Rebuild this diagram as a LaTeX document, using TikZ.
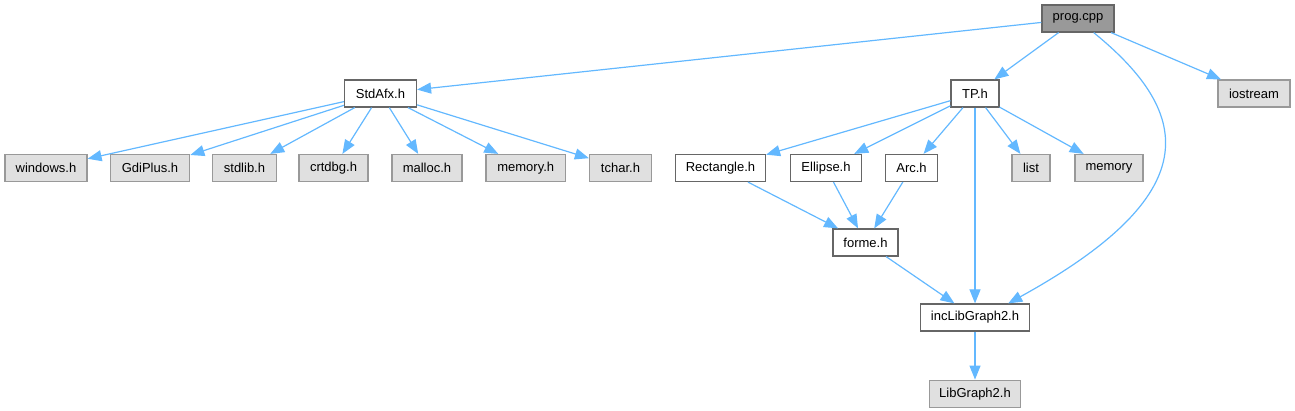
\documentclass[tikz,border=0pt]{standalone}
\usepackage{fontspec}
\setmainfont{Liberation Sans}
\usepackage{xcolor}
\definecolor{edgeblue}{HTML}{63B8FF}
\definecolor{docgray}{HTML}{666666}
\definecolor{extgray}{HTML}{999999}
\definecolor{extfill}{HTML}{E0E0E0}
\definecolor{rootfill}{HTML}{999999}
\usepackage{tikz}
\usetikzlibrary{
    arrows.meta,
    positioning
}
\tikzset{
    filenode/.style = {rectangle, draw=docgray, fill=white, line width=1.2pt,
                       minimum height=27pt, inner xsep=4pt, align=center,
                       font=\fontsize{13}{15}\selectfont},
    extnode/.style  = {filenode, draw=extgray, fill=extfill},
    rootnode/.style = {filenode, fill=rootfill},
    incArr/.style   = {-{Triangle[length=14pt, width=11pt]}, line width=1.2pt,
                       draw=edgeblue}
}

\begin{document}
\begin{tikzpicture}[x=1pt, y=1pt]
\useasboundingbox (0,0) rectangle (1295,-411);

% ===== Root file =====
\node[rootnode, minimum width=72pt] (prog) at (1078,-18.5) {prog.cpp};

% ===== Second row =====
\node[filenode, minimum width=72pt] (stdafx)   at (380.5,-93.5) {StdAfx.h};
\node[filenode, minimum width=48pt] (tp)       at (975,-93.5)   {TP.h};
\node[extnode,  minimum width=72pt] (iostream) at (1254,-93.5)  {iostream};

% ===== Headers pulled in by StdAfx.h =====
\node[extnode, minimum width=82pt]   (windows) at (46,-168)     {windows.h};
\node[extnode, minimum width=79.5pt] (gdiplus) at (150,-168)    {GdiPlus.h};
\node[extnode, minimum width=63.5pt] (stdlib)  at (244.5,-168)  {stdlib.h};
\node[extnode, minimum width=69pt]   (crtdbg)  at (333.5,-168)  {crtdbg.h};
\node[extnode, minimum width=70pt]   (malloc)  at (427,-168)    {malloc.h};
\node[extnode, minimum width=79.5pt] (memoryh) at (525.75,-168) {memory.h};
\node[extnode, minimum width=62pt]   (tchar)   at (620.5,-168)  {tchar.h};

% ===== Headers pulled in by TP.h =====
\node[filenode, minimum width=90pt]   (rect)    at (720.5,-168) {Rectangle.h};
\node[filenode, minimum width=71.5pt] (ellipse) at (826,-168)   {Ellipse.h};
\node[filenode, minimum width=52.5pt] (arc)     at (911.5,-168) {Arc.h};
\node[extnode,  minimum width=38pt]   (list)    at (1031,-168)  {list};
\node[extnode,  minimum width=68pt]   (memory)  at (1109,-168)  {memory};

% ===== Lower part =====
\node[filenode, minimum width=65pt]    (forme)  at (865.5,-242.5) {forme.h};
\node[filenode, minimum width=108.6pt] (inclib) at (975,-317.5)   {incLibGraph2.h};
\node[extnode,  minimum width=91.7pt, below=48pt of inclib] (libgraph) {LibGraph2.h};

% ===== Include edges =====
\draw[incArr] (prog) -- (stdafx);
\draw[incArr] (prog) -- (tp);
\draw[incArr] (prog) -- (iostream);
\draw[incArr] (prog.-42) .. controls (1195,-115) and (1205,-195) .. (inclib.23);

\foreach \dst in {windows, gdiplus, stdlib, crtdbg, malloc, memoryh, tchar}
   \draw[incArr] (stdafx) -- (\dst);

\foreach \dst in {rect, ellipse, arc, inclib, list, memory}
   \draw[incArr] (tp) -- (\dst);

\foreach \src in {rect, ellipse, arc}
   \draw[incArr] (\src) -- (forme);

\draw[incArr] (forme) -- (inclib);
\draw[incArr] (inclib) -- (libgraph);

\end{tikzpicture}
\end{document}
